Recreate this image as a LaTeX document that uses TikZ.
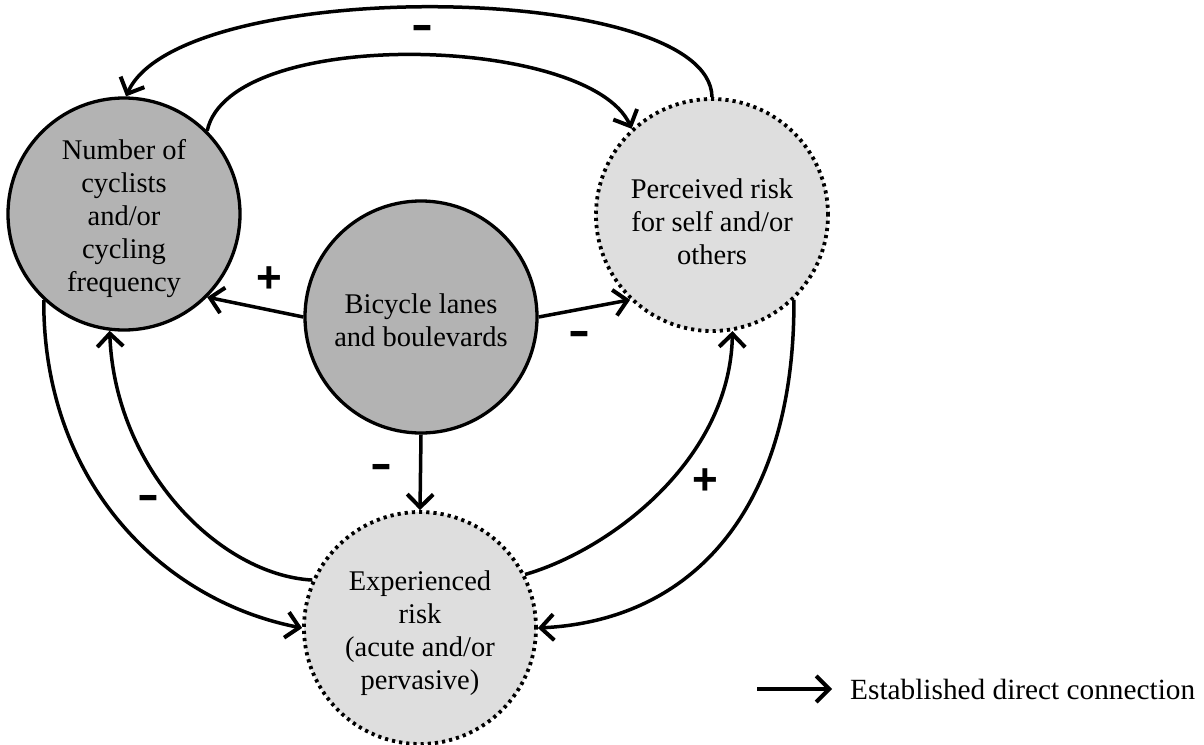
\documentclass[tikz,border=0pt]{standalone}
\usepackage{fontspec}
\setmainfont{Liberation Serif}
\setsansfont{Liberation Sans}
\usetikzlibrary{arrows.meta}
\definecolor{darkfill}{RGB}{179,179,179}
\definecolor{lightfill}{RGB}{222,222,222}
\newcommand{\minussign}{\scalebox{1.5}[1]{-}}
\begin{document}
\begin{tikzpicture}[x=1pt,y=-1pt,
  nodetext/.style={font=\fontsize{28.5}{33}\selectfont, align=center},
  bubble/.style={circle, draw, line width=3.3pt, minimum size=232pt, inner sep=0pt},
  darknode/.style={bubble, fill=darkfill},
  lightnode/.style={bubble, fill=lightfill, line width=3.8pt, dash pattern=on 3.2pt off 4pt},
  conn/.style={line width=3.5pt, -{Straight Barb[length=13pt,width=26pt,line width=4pt]}},
  signlabel/.style={font=\sffamily\bfseries\fontsize{44}{44}\selectfont, inner sep=0pt}
]
\useasboundingbox (0,0) rectangle (1204,744);

\node[darknode]  (L) at (124,214) {};
\node[darknode]  (C) at (421,317) {};
\node[lightnode] (R) at (712,215) {};
\node[lightnode] (B) at (420,628) {};

\node[nodetext] (Lt) at (124,219) {Number of\\cyclists\\and/or\\cycling\\frequency};
\node[nodetext] (Ct) at (421,320) {Bicycle lanes\\and boulevards};
\node[nodetext] (Rt) at (712,222) {Perceived risk\\for self and/or\\others};
\node[nodetext] (Bt) at (420,633) {Experienced\\risk\\(acute and/or\\pervasive)};

% top arcs
\draw[conn] (R.90) .. controls (710,-20) and (180,-25) .. (L.89);
\draw[conn] (L.45) .. controls (230,25) and (590,35) .. (R.133);

% from centre node
\draw[conn] (C.180) -- (L.-45);
\draw[conn] (C.0) -- (R.226);
\draw[conn] (C.-90) -- (B.90);

% left arcs
\draw[conn] (L.-133) .. controls (43,480) and (160,600) .. (B.180);
\draw[conn] (B.156) .. controls (220,575) and (115,470) .. (L.-97);

% right arcs
\draw[conn] (B.27.6) .. controls (610,550) and (730,460) .. (R.-80);
\draw[conn] (R.-46) .. controls (795,500) and (700,620) .. (B.0);

% sign labels
\node[signlabel] (s1) at (422,32) {\minussign};
\node[signlabel] (s2) at (269,280) {+};
\node[signlabel] (s3) at (579,338) {\minussign};
\node[signlabel] (s4) at (381,471) {\minussign};
\node[signlabel] (s5) at (148,502) {\minussign};
\node[signlabel] (s6) at (705,482) {+};

% legend
\coordinate (legA) at (757,689);
\node[font=\fontsize{29.3}{33}\selectfont, anchor=west, inner sep=0pt] (legT) at (850,689) {Established direct connection};
\draw[conn] (legA) -- ++(75,0);
\end{tikzpicture}
\end{document}
